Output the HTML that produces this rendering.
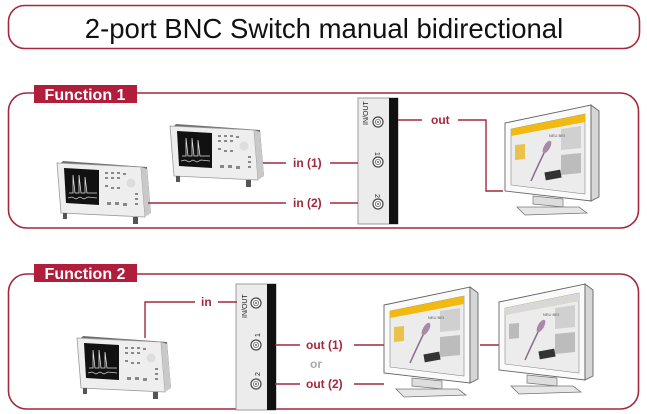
<!DOCTYPE html>
<html><head><meta charset="utf-8"><style>
html,body{margin:0;padding:0;background:#fff;width:647px;height:414px;overflow:hidden}
svg{display:block}
.t{font-family:"Liberation Sans",Arial,sans-serif}
</style></head><body>
<svg width="647" height="414" viewBox="0 0 647 414" xmlns="http://www.w3.org/2000/svg">
<defs>
<g id="osc">
  <polygon points="8,6 92,12 96,58 88,62 10,56 4,10" fill="#6d6f72"/>
  <polygon points="2,8 86,12 90,62 6,58" fill="#eeeeee" stroke="#9a9a9a" stroke-width="0.8"/>
  <polygon points="86,12 92,14 96,58 90,62" fill="#c9c9c9"/>
  <polygon points="9,13 44,15 44,50 11,48" fill="#111"/>
  <polyline points="14,38 18,38 18,20 20,38 24,38 24,20 26,38 30,38 30,22 32,38 42,38" fill="none" stroke="#ddd" stroke-width="0.8"/>
  <polyline points="13,43 17,42 21,44 25,42 29,44 33,42 42,43" fill="none" stroke="#ccc" stroke-width="0.7"/>
  <g fill="#888">
    <rect x="50" y="17" width="3" height="2"/><rect x="56" y="17" width="3" height="2"/><rect x="62" y="17" width="3" height="2"/><rect x="68" y="18" width="3" height="2"/>
    <rect x="50" y="22" width="3" height="2"/><rect x="56" y="22" width="3" height="2"/><rect x="62" y="22" width="3" height="2"/>
    <rect x="50" y="30" width="3" height="2"/><rect x="56" y="32" width="3" height="2"/><rect x="62" y="32" width="3" height="2"/>
    <rect x="80" y="38" width="3" height="2"/><rect x="80" y="43" width="3" height="2"/><rect x="80" y="48" width="3" height="2"/>
    <rect x="52" y="47" width="4" height="3"/><rect x="60" y="47" width="4" height="3"/><rect x="68" y="48" width="4" height="3"/>
  </g>
  <circle cx="76" cy="28" r="4.5" fill="#ddd"/>
  <rect x="8" y="58" width="4" height="6" fill="#555"/><rect x="78" y="62" width="5" height="7" fill="#555"/>
</g>
<g id="mon">
  <polygon points="2,20 88,2 88,98 2,88" fill="#fafafa" stroke="#666" stroke-width="0.9"/>
  <polygon points="88,2 96,8 96,94 88,98" fill="#d6d6d6" stroke="#666" stroke-width="0.9"/>
  <polygon points="8,26 82,11 82,91 8,82" fill="#ececec" stroke="#888" stroke-width="0.6"/>
  <polygon points="8,26 82,11 82,19 8,33" fill="#f2b90f"/>
  <polygon points="12,42 22,41 22,56 12,57" fill="#e8c24a"/>
  <polygon points="58,26 78,23 78,45 58,47" fill="#d0d0d0"/>
  <polygon points="58,52 78,50 78,70 58,72" fill="#bcbcbc"/>
  <rect x="42" y="68" width="16" height="8" fill="#333" transform="rotate(-10 50 72)"/>
  <path d="M28,78 Q36,60 44,44" stroke="#8a6e8a" stroke-width="1.5" fill="none"/>
  <ellipse cx="44" cy="44" rx="3" ry="7" fill="#a68aa6" transform="rotate(30 44 44)"/>
  <text x="46" y="34" font-size="4" fill="#555" class="t">NEU BEI</text>
  <polygon points="30,93 60,96 60,104 30,101" fill="#ddd" stroke="#777" stroke-width="0.7"/>
  <polygon points="14,104 76,104 84,110 22,112" fill="#e6e6e6" stroke="#777" stroke-width="0.8"/>
</g>
<g id="sw">
  <rect x="0" y="0" width="40" height="126" fill="#ececec" stroke="#888" stroke-width="0.8"/>
  <rect x="31" y="0" width="9" height="126" fill="#111"/>
</g>
<g id="bnc">
  <circle r="5" fill="#fff" stroke="#444" stroke-width="1.2"/><circle r="2.6" fill="none" stroke="#666" stroke-width="0.8"/><circle r="0.9" fill="#333"/>
</g>
</defs>

<rect x="8.5" y="5.5" width="631" height="43" rx="16" fill="#fff" stroke="#a3283f" stroke-width="1.6"/>
<text x="324" y="38" text-anchor="middle" font-size="27.5" class="t" fill="#111">2-port BNC Switch manual bidirectional</text>

<rect x="8.5" y="93" width="630" height="135" rx="18" fill="none" stroke="#a3283f" stroke-width="1.6"/>
<rect x="34" y="84" width="103" height="19" fill="#fff"/>
<rect x="34" y="85" width="103" height="18" fill="#b01e3c"/>
<text x="85" y="100" text-anchor="middle" font-size="16" font-weight="bold" class="t" fill="#fff">Function 1</text>

<use href="#osc" transform="translate(168,118)"/>
<use href="#osc" transform="translate(55,155)"/>
<use href="#sw" transform="translate(358,98)"/>
<use href="#bnc" transform="translate(378,122)"/>
<use href="#bnc" transform="translate(378,162)"/>
<use href="#bnc" transform="translate(378,204)"/>
<text x="368" y="125" font-size="7" class="t" fill="#222" transform="rotate(-90 368 125)">IN/OUT</text>
<text x="375" y="152" font-size="7" class="t" fill="#222" transform="rotate(90 375 152)">1</text>
<text x="375" y="194" font-size="7" class="t" fill="#222" transform="rotate(90 375 194)">2</text>

<g stroke="#a3283f" stroke-width="1.4" fill="none">
  <line x1="263" y1="163" x2="286" y2="163"/><line x1="330" y1="163" x2="358" y2="163"/>
  <line x1="148" y1="203" x2="286" y2="203"/><line x1="330" y1="203" x2="358" y2="203"/>
  <polyline points="398,120 422,120"/><polyline points="458,120 486,120 486,191 503,191"/>
</g>
<g font-size="12" font-weight="bold" class="t" fill="#a3283f">
  <text x="293" y="167">in (1)</text>
  <text x="293" y="207">in (2)</text>
  <text x="431" y="124">out</text>
</g>
<use href="#mon" transform="translate(503,103)"/>

<rect x="8.5" y="274" width="630" height="135" rx="18" fill="none" stroke="#a3283f" stroke-width="1.6"/>
<rect x="34" y="263" width="103" height="20" fill="#fff"/>
<rect x="34" y="264" width="103" height="18" fill="#b01e3c"/>
<text x="85" y="279" text-anchor="middle" font-size="16" font-weight="bold" class="t" fill="#fff">Function 2</text>

<use href="#osc" transform="translate(75,330)"/>
<use href="#sw" transform="translate(236,284)"/>
<use href="#bnc" transform="translate(256,303)"/>
<use href="#bnc" transform="translate(256,345)"/>
<use href="#bnc" transform="translate(256,384)"/>
<text x="247" y="318" font-size="7" class="t" fill="#222" transform="rotate(-90 247 318)">IN/OUT</text>
<text x="260" y="337" font-size="7" class="t" fill="#222" transform="rotate(-90 260 337)">1</text>
<text x="260" y="376" font-size="7" class="t" fill="#222" transform="rotate(-90 260 376)">2</text>

<g stroke="#a3283f" stroke-width="1.4" fill="none">
  <polyline points="145,338 145,302 195,302"/><line x1="218" y1="302" x2="237" y2="302"/>
  <line x1="275" y1="345" x2="300" y2="345"/><line x1="354" y1="345" x2="384" y2="345"/>
  <line x1="275" y1="384" x2="300" y2="384"/><line x1="354" y1="384" x2="384" y2="384"/>
  <line x1="480" y1="345" x2="499" y2="345"/>
</g>
<g font-size="12" font-weight="bold" class="t" fill="#a3283f">
  <text x="201" y="306">in</text>
  <text x="306" y="349">out (1)</text>
  <text x="306" y="388">out (2)</text>
</g>
<text x="310" y="368" font-size="12" font-weight="bold" class="t" fill="#aaa">or</text>
<use href="#mon" transform="translate(382,285)"/>
<g transform="translate(497,282)">
  <use href="#mon"/>
  <polygon points="8,26 82,11 82,19 8,33" fill="#d8d8d8"/>
  <polygon points="12,42 22,41 22,56 12,57" fill="#bbb"/>
</g>
</svg>
</body></html>
